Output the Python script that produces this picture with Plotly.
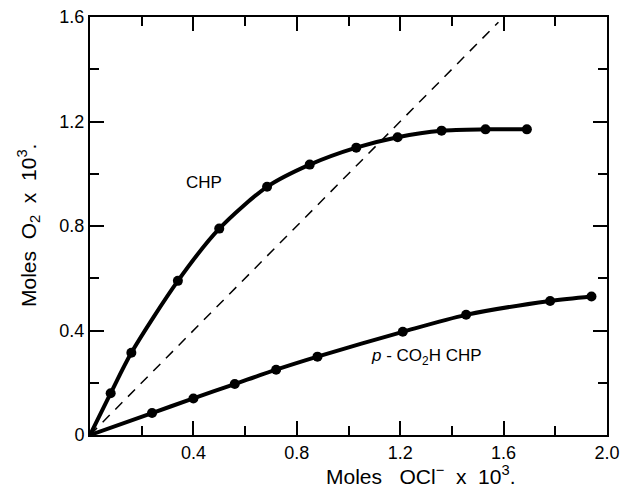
import plotly.graph_objects as go

# CHP data (Moles OCl- x 10^3 vs Moles O2 x 10^3)
chp_x = [0.08, 0.16, 0.34, 0.50, 0.685, 0.85, 1.03, 1.19, 1.36, 1.53, 1.69]
chp_y = [0.16, 0.315, 0.59, 0.79, 0.95, 1.035, 1.10, 1.14, 1.165, 1.17, 1.17]

# p-CO2H CHP data
pco_x = [0.24, 0.40, 0.56, 0.72, 0.88, 1.21, 1.455, 1.78, 1.94]
pco_y = [0.084, 0.14, 0.195, 0.25, 0.30, 0.395, 0.46, 0.513, 0.53]

# dashed 1:1 reference line
diag_x = [0.0, 1.58]
diag_y = [0.0, 1.58]

x_ticks = [0, 0.4, 0.8, 1.2, 1.6, 2.0]
x_ticktext = ["", "0.4", "0.8", "1.2", "1.6", "2.0"]
y_ticks = [0, 0.4, 0.8, 1.2, 1.6]
y_ticktext = ["0", "0.4", "0.8", "1.2", "1.6"]

FONT = "Liberation Sans, Arial, sans-serif"

fig = go.Figure()

fig.add_trace(go.Scatter(x=diag_x, y=diag_y, mode="lines",
                         line=dict(color="black", width=1.5, dash="10px,8px"),
                         showlegend=False, hoverinfo="skip"))

fig.add_trace(go.Scatter(x=[0] + chp_x, y=[0] + chp_y, mode="lines",
                         line=dict(color="black", width=4, shape="spline", smoothing=0.8),
                         showlegend=False))
fig.add_trace(go.Scatter(x=chp_x, y=chp_y, mode="markers",
                         marker=dict(color="black", size=10),
                         showlegend=False))

fig.add_trace(go.Scatter(x=[0] + pco_x, y=[0] + pco_y, mode="lines",
                         line=dict(color="black", width=4, shape="spline", smoothing=0.8),
                         showlegend=False))
fig.add_trace(go.Scatter(x=pco_x, y=pco_y, mode="markers",
                         marker=dict(color="black", size=10),
                         showlegend=False))

axis_common = dict(
    showgrid=False, zeroline=False, showline=True, linecolor="black", linewidth=2,
    mirror="ticks", ticks="inside", ticklen=14, tickwidth=1.5, tickcolor="black",
    tickfont=dict(family=FONT, size=18, color="black"), automargin=False,
    ticklabeloverflow="allow",
)

fig.update_xaxes(range=[0, 2.0], tickmode="array", tickvals=x_ticks, ticktext=x_ticktext,
                 minor=dict(ticks="inside", ticklen=9, tickwidth=1.5, tickcolor="black",
                            dtick=0.2, tick0=0, showgrid=False),
                 **axis_common)
fig.update_yaxes(range=[0, 1.6], tickmode="array", tickvals=y_ticks, ticktext=y_ticktext,
                 minor=dict(ticks="inside", ticklen=9, tickwidth=1.5, tickcolor="black",
                            dtick=0.2, tick0=0, showgrid=False),
                 **axis_common)

fig.add_annotation(x=0.44, y=0.965, xref="x", yref="y", text="CHP", showarrow=False,
                   font=dict(family=FONT, size=17, color="black"))
fig.add_annotation(x=1.30, y=0.30, xref="x", yref="y",
                   text="<i>p</i> - CO<sub>2</sub>H CHP", showarrow=False,
                   font=dict(family=FONT, size=17, color="black"))
fig.add_annotation(x=1.28, y=0, xref="x", yref="paper", xanchor="center", yanchor="bottom",
                   yshift=-55,
                   text="Moles   OCl<sup>−</sup>  x  10<sup>3</sup>.", showarrow=False,
                   font=dict(family=FONT, size=21, color="black"))
fig.add_annotation(x=0, y=0.5, xref="paper", yref="paper", xanchor="center", yanchor="middle",
                   xshift=-62, textangle=-90,
                   text="Moles  O<sub>2</sub>  x  10<sup>3</sup>.", showarrow=False,
                   font=dict(family=FONT, size=21, color="black"))

fig.update_layout(
    width=623, height=491,
    margin=dict(l=90, r=16, t=17, b=56),
    paper_bgcolor="white", plot_bgcolor="white",
)

fig.write_html("out.html", config={"displayModeBar": False},
               post_script="document.body.style.margin='0px';document.body.style.overflow='hidden';")
